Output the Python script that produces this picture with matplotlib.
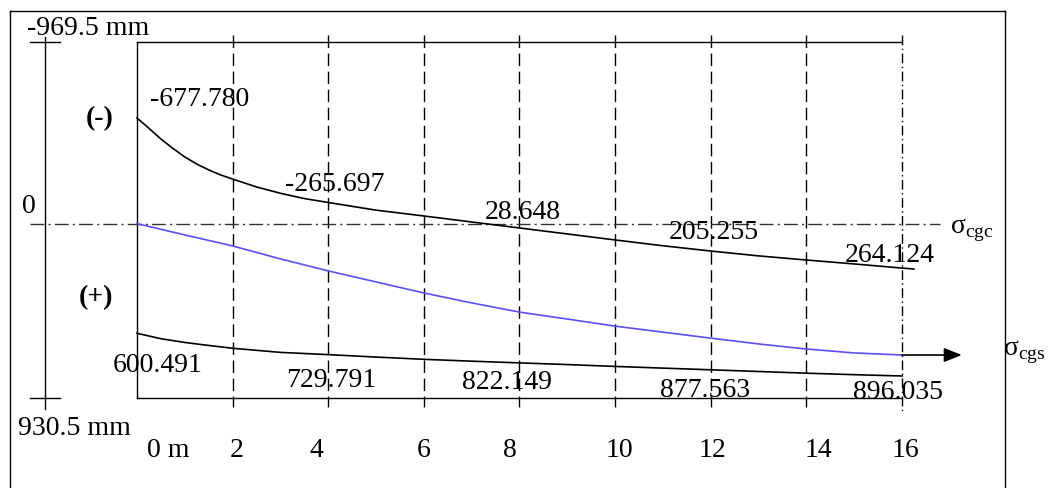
import numpy as np
import matplotlib
matplotlib.use("Agg")
import matplotlib.pyplot as plt

plt.rcParams['font.family'] = ['Liberation Serif', 'DejaVu Serif']
plt.rcParams['mathtext.fontset'] = 'custom'
plt.rcParams['mathtext.rm'] = 'Liberation Serif'

# stations along the beam (m)
stations = [0, 2, 4, 6, 8, 10, 12, 14, 16]
tick_labels = ['0 m', '2', '4', '6', '8', '10', '12', '14', '16']

# curves as drawn (mm, positive downwards)
x_top = [0, 0.25, 0.5, 0.75, 1, 1.25, 1.5, 1.75, 2, 2.5, 3, 3.5, 4, 5, 6, 7, 8, 9,
         10, 11, 12, 13, 14, 15, 16, 16.25]
top_fibre = [-564, -509, -452, -402, -356, -318, -287, -260, -238, -196, -162, -134,
             -113, -72, -41, -9, 23, 55, 87, 118, 146, 172, 194, 215, 237, 242]

x_mid = [0, 1, 2, 3, 4, 5, 6, 7, 8, 9, 10, 11, 12, 13, 14, 15, 16]
mid_line = [0, 60, 119, 188, 252, 311, 370, 423, 472, 509, 547, 579, 611, 642, 669, 690, 701]

x_bot = [0, 0.5, 1, 1.5, 2, 3, 4, 5, 6, 7, 8, 9, 10, 11, 12, 13, 14, 15, 16]
bottom_fibre = [585, 614, 634, 650, 665, 687, 699, 712, 724, 734, 743, 752, 762, 771,
                780, 789, 798, 806, 813]

# printed values
top_text = ['-677.780', '-265.697', '28.648', '205.255', '264.124']
bot_text = ['600.491', '729.791', '822.149', '877.563', '896.035']

y_top, y_bot = -969.5, 930.5

fig = plt.figure(figsize=(10.49, 4.89), dpi=100)
ax = fig.add_axes([0, 0, 1, 1])
ax.set_xlim(-2.865, 19.075)
ax.set_ylim(1410.8, -1199.0)
ax.axis('off')

k = dict(color='black', lw=1.0)

# outer frame
ax.plot([-2.656, -2.656], [1500, -1135], clip_on=False, **k)
ax.plot([-2.656, 18.15], [-1135, -1135], **k)
ax.plot([18.15, 18.15], [-1135, 1500], clip_on=False, **k)

# inner box
ax.plot([0, 16], [y_top, y_top], **k)
ax.plot([0, 16], [y_bot, y_bot], **k)
ax.plot([0, 0], [y_top, y_bot], **k)

# station lines
for s in stations[1:-1]:
    ax.plot([s, s], [-1007, 978], color='black', lw=1.0, linestyle=(0, (9, 4)))
ax.plot([16, 16], [-1007, 1017], color='black', lw=1.0, linestyle=(0, (7, 2.5, 1, 2.5)))

# centroid axis
ax.plot([-2.24, 16.8], [0, 0], color='#333333', lw=1.0, linestyle=(0, (10, 3, 1.5, 3)))

# depth scale at left
ax.plot([-1.924, -1.924], [-997, 989], **k)
ax.plot([-2.24, -1.61], [y_top, y_top], **k)
ax.plot([-2.24, -1.61], [y_bot, y_bot], **k)

# curves
ax.plot(x_top, top_fibre, color='black', lw=1.2, solid_joinstyle='round')
ax.plot(x_mid, mid_line, color='#5b4dff', lw=1.2, solid_joinstyle='round')
ax.plot(x_bot, bottom_fibre, color='black', lw=1.2, solid_joinstyle='round')
ax.annotate('', xy=(17.25, mid_line[-1]), xytext=(x_mid[-1], mid_line[-1]),
            arrowprops=dict(arrowstyle='-|>,head_length=0.4,head_width=0.16',
                            color='black', lw=1.2, mutation_scale=27,
                            shrinkA=0, shrinkB=0))

fs = 20
top_pos = [(1.30, -634), (4.14, -180), (8.07, -30), (12.07, 77), (15.75, 199)]
bot_pos = [(0.44, 786), (4.06, 866), (7.74, 877), (11.88, 920), (15.92, 930)]
for t, (x, y) in zip(top_text, top_pos):
    ax.text(x, y, t, ha='center', va='baseline', fontsize=fs)
for t, (x, y) in zip(bot_text, bot_pos):
    ax.text(x, y, t, ha='center', va='baseline', fontsize=fs)

tick_x = [0.21, 2.09, 3.76, 6.00, 7.80, 10.08, 12.03, 14.26, 16.08]
for t, x in zip(tick_labels, tick_x):
    ax.text(x, 1240, t, ha='left' if t == '0 m' else 'center', va='baseline', fontsize=fs)

ax.text(-2.30, -1012, '-969.5 mm', ha='left', va='baseline', fontsize=fs)
ax.text(-2.49, 1123, '930.5 mm', ha='left', va='baseline', fontsize=fs)
ax.text(-2.26, -62, '0', ha='center', va='baseline', fontsize=fs)
ax.text(-0.79, -564, '(-)', ha='center', va='center', fontsize=fs, fontweight='bold')
ax.text(-0.86, 387, '(+)', ha='center', va='center', fontsize=fs, fontweight='bold')
ax.text(17.0, 46, r'σ$_{\mathrm{cgc}}$', ha='left', va='baseline', fontsize=fs)
ax.text(18.11, 695, r'σ$_{\mathrm{cgs}}$', ha='left', va='baseline', fontsize=fs)

fig.savefig('out.png', dpi=100)
